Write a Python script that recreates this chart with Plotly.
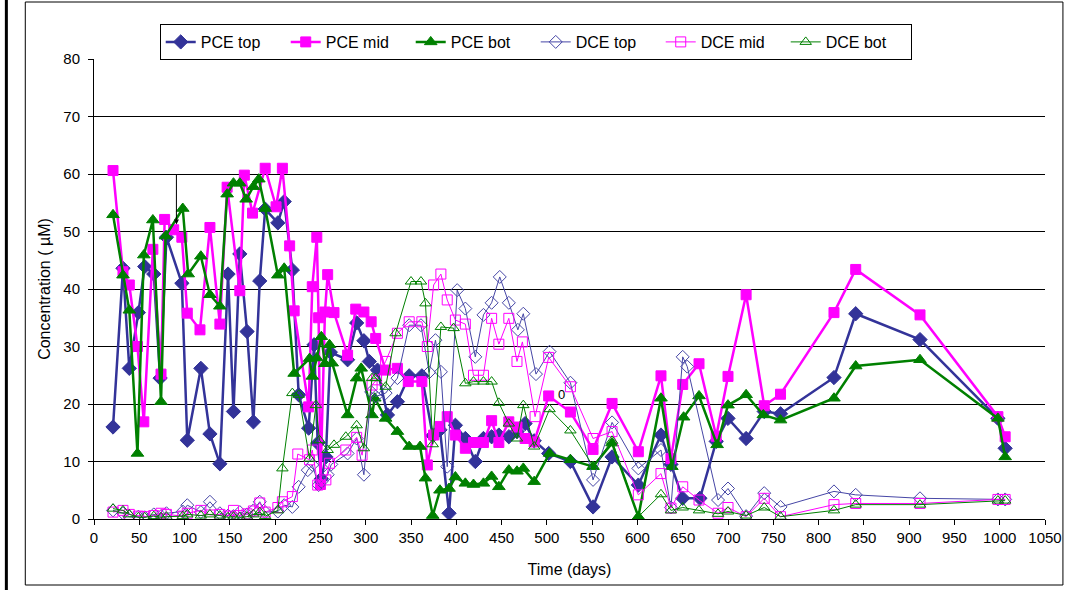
import plotly.graph_objects as go

# PCE (filled markers)
pce_top_days = [21, 32, 39, 49, 56, 66, 73, 80, 97, 103, 118, 128, 139, 148, 154, 161, 169, 176, 183, 189,
                203, 210, 219, 226, 237, 243, 247, 251, 256, 261, 280, 290, 298, 304, 313, 324, 335, 348,
                362, 374, 382, 392, 399, 410, 421, 430, 439, 447, 458, 467, 476, 486, 502, 526, 551, 572,
                601, 626, 637, 650, 669, 687, 700, 720, 740, 758, 817, 841, 912, 998, 1006]
pce_top_vals = [16.0, 43.6, 26.2, 35.9, 43.9, 42.6, 24.5, 49.0, 41.0, 13.7, 26.2, 14.8, 9.6, 42.6, 18.7, 46.1,
                32.6, 16.9, 41.4, 53.9, 51.5, 55.2, 43.3, 21.6, 15.8, 30.3, 13.2, 7.0, 10.8, 29.0, 27.7, 34.1,
                31.0, 27.4, 25.9, 18.1, 20.4, 24.9, 24.9, 14.5, 15.5, 1.0, 16.3, 14.0, 10.0, 14.0, 14.3, 14.6,
                14.3, 15.2, 16.6, 13.6, 11.4, 10.0, 2.1, 10.8, 5.9, 14.6, 9.5, 3.6, 3.6, 13.5, 17.5, 14.0,
                18.7, 18.3, 24.6, 35.7, 31.2, 17.5, 12.3]

pce_mid_days = [21, 32, 39, 48, 55, 65, 74, 78, 88, 97, 103, 117, 128, 139, 147, 161, 166, 175, 189, 201,
                208, 216, 221, 237, 241, 246, 248, 250, 255, 258, 265, 280, 289, 298, 306, 311, 322, 335,
                347, 362, 368, 375, 382, 390, 399, 410, 419, 430, 439, 447, 458, 467, 476, 486, 502, 526,
                551, 572, 601, 626, 637, 650, 668, 687, 700, 720, 740, 758, 817, 841, 912, 998, 1006]
pce_mid_vals = [60.6, 43.0, 40.7, 30.0, 16.9, 46.9, 25.2, 52.1, 50.3, 49.0, 35.8, 32.9, 50.7, 33.9, 57.7,
                39.7, 59.8, 53.2, 61.0, 54.3, 61.0, 47.5, 36.2, 19.5, 40.4, 49.0, 35.0, 6.0, 36.0, 42.5,
                35.9, 28.5, 36.5, 36.0, 34.3, 31.4, 25.9, 26.2, 23.9, 23.9, 9.4, 14.6, 16.1, 17.8, 14.6,
                12.3, 13.3, 13.3, 17.1, 13.3, 16.9, 16.0, 14.0, 13.4, 21.4, 18.6, 12.1, 20.1, 11.7, 24.9,
                10.5, 23.4, 27.0, 14.4, 24.8, 39.0, 19.7, 21.7, 35.9, 43.4, 35.5, 17.8, 14.3]

pce_bot_days = [21, 32, 39, 48, 55, 65, 74, 79, 98, 104, 118, 128, 139, 147, 154, 161, 168, 176, 182, 189,
                203, 210, 221, 238, 241, 246, 251, 255, 260, 263, 280, 290, 295, 307, 310, 322, 335, 348,
                360, 366, 374, 382, 392, 399, 410, 419, 430, 439, 447, 458, 467, 474, 486, 503, 526, 551,
                572, 601, 626, 638, 651, 668, 688, 700, 720, 739, 758, 817, 841, 912, 998, 1006]
pce_bot_vals = [52.9, 42.4, 36.3, 11.4, 45.9, 52.0, 20.4, 49.2, 54.0, 42.6, 45.7, 39.0, 37.0, 56.5, 58.4,
                58.4, 55.6, 57.8, 59.1, 54.0, 42.4, 43.6, 25.3, 27.9, 24.8, 28.0, 31.7, 27.0, 30.3, 27.1,
                18.1, 24.5, 26.2, 18.1, 21.0, 17.5, 15.2, 12.6, 12.6, 7.1, 0.6, 5.0, 5.3, 7.3, 6.2, 6.0,
                6.2, 7.4, 5.6, 8.5, 8.3, 8.8, 6.5, 11.4, 10.3, 9.1, 13.2, 0.4, 21.0, 9.1, 17.7, 21.4, 12.9,
                19.8, 21.6, 18.1, 17.2, 21.0, 26.6, 27.7, 17.5, 10.8]

# DCE (open markers)
dce_top_days = [21, 32, 39, 49, 56, 66, 74, 80, 98, 103, 118, 128, 139, 148, 154, 161, 169, 176, 183, 189,
                203, 210, 219, 226, 236, 241, 248, 251, 258, 262, 280, 290, 298, 306, 311, 322, 335, 348,
                361, 370, 377, 383, 390, 401, 410, 421, 430, 439, 448, 458, 468, 474, 488, 503, 526, 551,
                572, 601, 626, 637, 650, 655, 689, 700, 720, 740, 758, 817, 841, 912, 998, 1006]
dce_top_vals = [1.5, 1.0, 0.4, 0.4, 0.3, 0.8, 0.5, 1.0, 1.3, 2.4, 1.2, 3.0, 1.0, 0.6, 0.5, 1.2, 0.8, 1.5,
                3.0, 1.2, 1.3, 2.4, 2.1, 5.6, 8.5, 9.4, 5.9, 6.5, 7.7, 9.5, 11.4, 14.0, 7.7, 22.1, 21.3,
                21.9, 24.5, 33.7, 33.7, 25.5, 31.1, 25.6, 9.1, 39.8, 36.6, 28.2, 35.5, 37.6, 42.1, 37.6,
                32.9, 35.7, 25.2, 29.1, 23.7, 6.8, 16.8, 8.8, 12.0, 2.0, 28.2, 26.5, 3.3, 5.3, 0.5, 4.5,
                2.1, 4.8, 4.2, 3.6, 3.4, 3.4]

dce_mid_days = [21, 32, 39, 49, 56, 66, 74, 80, 98, 103, 118, 128, 139, 148, 154, 161, 169, 176, 183, 189,
                203, 208, 219, 225, 238, 241, 247, 256, 260, 278, 290, 296, 307, 312, 322, 335, 348, 362,
                368, 375, 383, 390, 399, 410, 419, 430, 439, 447, 458, 467, 473, 487, 502, 526, 551, 572,
                601, 626, 637, 650, 668, 689, 700, 720, 740, 758, 817, 841, 912, 998, 1006]
dce_mid_vals = [1.2, 1.5, 0.8, 0.5, 0.4, 0.6, 1.0, 0.8, 0.5, 1.0, 1.5, 0.7, 0.8, 0.5, 1.5, 0.6, 0.9, 1.4,
                2.8, 1.2, 2.0, 3.0, 3.9, 11.3, 10.3, 12.0, 5.9, 6.8, 9.7, 12.0, 14.2, 11.1, 23.3, 24.2,
                27.4, 32.3, 34.3, 34.3, 30.0, 40.7, 42.6, 38.1, 34.6, 33.9, 25.0, 25.0, 34.9, 30.4, 34.9,
                27.4, 30.8, 17.8, 28.1, 23.0, 14.0, 15.2, 4.2, 7.9, 1.9, 5.6, 3.3, 1.0, 2.0, 0.4, 3.6, 0.4,
                2.5, 2.7, 2.7, 3.4, 3.4]

dce_bot_days = [21, 32, 39, 49, 56, 66, 74, 80, 98, 103, 118, 128, 139, 148, 154, 161, 169, 176, 183, 189,
                203, 208, 219, 226, 238, 245, 249, 258, 265, 278, 290, 298, 307, 311, 322, 333, 350, 361,
                366, 374, 383, 397, 410, 419, 430, 439, 447, 458, 467, 474, 486, 503, 526, 551, 572, 601,
                626, 637, 650, 668, 689, 700, 720, 740, 758, 817, 841, 912, 998, 1006]
dce_bot_vals = [1.8, 1.5, 0.8, 0.3, 0.3, 0.5, 0.3, 0.4, 0.5, 0.8, 0.6, 0.8, 0.6, 0.3, 0.4, 0.3, 0.4, 0.8,
                1.2, 0.5, 1.5, 8.8, 21.9, 21.6, 10.5, 19.8, 13.7, 12.0, 12.9, 14.3, 16.3, 12.3, 24.5, 24.5,
                23.0, 32.3, 41.3, 41.3, 37.5, 13.0, 33.4, 33.2, 23.6, 23.9, 23.9, 23.9, 20.2, 16.6, 14.0,
                19.8, 12.6, 19.1, 15.4, 9.2, 13.6, 0.4, 4.3, 1.5, 2.0, 1.5, 0.9, 1.3, 0.6, 2.0, 0.4, 1.5,
                2.5, 2.5, 3.2, 3.2]

x_ticks = list(range(0, 1051, 50))
y_ticks = list(range(0, 81, 10))

NAVY = "#333399"
MAG = "#FF00FF"
GRN = "#008000"
FONT = "Liberation Sans, Arial, sans-serif"

series = [
    ("PCE top", pce_top_days, pce_top_vals, NAVY, "diamond", 11, 2.5),
    ("PCE mid", pce_mid_days, pce_mid_vals, MAG, "square", 10, 2.5),
    ("PCE bot", pce_bot_days, pce_bot_vals, GRN, "triangle-up", 11, 2.5),
    ("DCE top", dce_top_days, dce_top_vals, "#4646A6", "diamond-open", 10, 1),
    ("DCE mid", dce_mid_days, dce_mid_vals, MAG, "square-open", 10, 1),
    ("DCE bot", dce_bot_days, dce_bot_vals, GRN, "triangle-up-open", 10, 1),
]

fig = go.Figure()
for name, xs, ys, col, sym, size, lw in series:
    fig.add_trace(go.Scatter(
        x=xs, y=ys, name=name, mode="lines+markers",
        line=dict(color=col, width=lw),
        marker=dict(symbol=sym, size=size, color=col, line=dict(color=col, width=1)),
    ))

# plot area in pixels: left 94, right 1049, top 59, bottom 519
L, R, T, B = 94, 1049, 59, 519
def px(xp):
    return (xp - L) / (R - L)
def py(yp):
    return (B - yp) / (B - T)

fig.update_layout(
    width=1074, height=590,
    margin=dict(l=L, r=1074 - R, t=T, b=590 - B),
    paper_bgcolor="white", plot_bgcolor="white",
    font=dict(family=FONT, size=16, color="black"),
    showlegend=True,
    legend=dict(
        orientation="h", x=px(160), y=py(24), xanchor="left", yanchor="top",
        bordercolor="black", borderwidth=1, bgcolor="white",
        font=dict(size=16), entrywidth=80, entrywidthmode="pixels",
        itemsizing="trace",
    ),
    xaxis=dict(
        range=[0, 1050], tickvals=x_ticks, ticktext=[str(v) for v in x_ticks],
        showgrid=False, zeroline=False, showline=True, linecolor="black", linewidth=1,
        ticks="outside", ticklen=5, tickcolor="black", tickfont=dict(size=15),
        title=dict(text="Time (days)", font=dict(size=16), standoff=18),
    ),
    yaxis=dict(
        range=[0, 80], tickvals=y_ticks, ticktext=[str(v) for v in y_ticks],
        showgrid=True, gridcolor="black", gridwidth=1, zeroline=False,
        showline=True, linecolor="black", linewidth=1,
        ticks="outside", ticklen=5, tickcolor="black", tickfont=dict(size=15),
        ticklabelstandoff=5,
        title=dict(text="Concentration ( µM)", font=dict(size=16), standoff=8),
    ),
    shapes=[
        dict(type="rect", xref="paper", yref="paper", x0=px(25), x1=px(1067), y0=py(585), y1=py(2),
             line=dict(color="black", width=1), fillcolor="rgba(0,0,0,0)", layer="below"),
        dict(type="line", xref="paper", yref="paper", x0=px(6), x1=px(6), y0=py(590), y1=py(0),
             line=dict(color="black", width=3)),
    ],
    annotations=[
        dict(x=91, y=51.2, xref="x", yref="y", text="", showarrow=True, arrowhead=2,
             arrowsize=1, arrowwidth=1, arrowcolor="black", ax=0, ay=-52),
        dict(x=510, y=21.7, xref="x", yref="y", text="0", showarrow=False,
             font=dict(size=13, color="black"), xanchor="left"),
    ],
)

# page body has a default 8px margin; drop it so the figure sits at the window origin
fig.write_html("out.html", config={"displayModeBar": False},
               post_script="document.body.style.margin='0';")
